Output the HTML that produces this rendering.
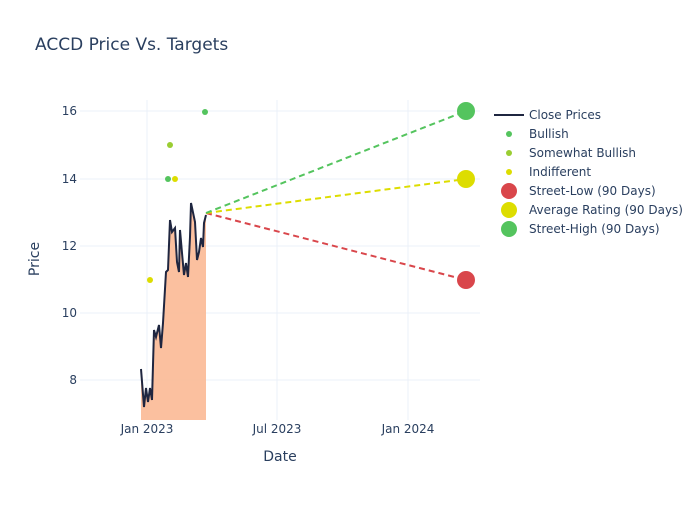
<!DOCTYPE html><html><head><meta charset="utf-8"><style>body{margin:0;background:#fff}svg{font-family:"DejaVu Sans","Liberation Sans",sans-serif}</style></head><body>
<svg width="700" height="500" xmlns="http://www.w3.org/2000/svg">
<rect width="700" height="500" fill="#fff"/>
<text x="35" y="50" font-size="17" fill="#2a3f5f">ACCD Price Vs. Targets</text>
<g stroke="#ebf0f8" stroke-width="1">
<line x1="80" x2="480" y1="111" y2="111"/><line x1="80" x2="480" y1="179" y2="179"/><line x1="80" x2="480" y1="246" y2="246"/><line x1="80" x2="480" y1="313" y2="313"/><line x1="80" x2="480" y1="380" y2="380"/>
<line x1="147" x2="147" y1="100" y2="420"/><line x1="277" x2="277" y1="100" y2="420"/><line x1="408" x2="408" y1="100" y2="420"/>
</g>
<g font-size="12" fill="#2a3f5f" text-anchor="end">
<text x="77" y="115">16</text><text x="77" y="183">14</text><text x="77" y="250">12</text><text x="77" y="317">10</text><text x="77" y="384">8</text></g>
<g font-size="12" fill="#2a3f5f" text-anchor="middle">
<text x="147" y="433">Jan 2023</text><text x="277" y="433">Jul 2023</text><text x="408" y="433">Jan 2024</text>
<text x="280" y="461" font-size="14">Date</text></g>
<text x="39" y="259" font-size="14" fill="#2a3f5f" text-anchor="middle" transform="rotate(-90 39 259)">Price</text>
<polygon fill="#fbbd9a" fill-opacity="0.95" points="141,420 141,369 144,407 146,388 148,402 150,388 152,400 154,330 156,337 159,325 161,348 163,323 166,272 168,270 170,220 172,232 175,228 177,262 179,272 180,230 182,253 184,275 186,263 188,277 190,237 191,203 195,222 197,260 199,252 201,238 203,247 204,223 206,215 206,420"/>
<polyline fill="none" stroke="#1f2640" stroke-width="2" points="141,369 144,407 146,388 148,402 150,388 152,400 154,330 156,337 159,325 161,348 163,323 166,272 168,270 170,220 172,232 175,228 177,262 179,272 180,230 182,253 184,275 186,263 188,277 190,237 191,203 195,222 197,260 199,252 201,238 203,247 204,223 206,215"/>
<line x1="206" y1="213" x2="466" y2="280" stroke="#d9464b" stroke-width="2" stroke-dasharray="6,4"/>
<line x1="206" y1="213" x2="466" y2="179" stroke="#dddd00" stroke-width="2" stroke-dasharray="6,4"/>
<line x1="206" y1="213" x2="466" y2="111" stroke="#54c45e" stroke-width="2" stroke-dasharray="6,4"/>
<circle cx="168" cy="179" r="3" fill="#54c45e"/><circle cx="205" cy="112" r="3" fill="#54c45e"/>
<circle cx="170" cy="145" r="3" fill="#9acd32"/>
<circle cx="150" cy="280" r="3" fill="#dddd00"/><circle cx="175" cy="179" r="3" fill="#dddd00"/>
<circle cx="466" cy="280" r="9" fill="#d9464b"/><circle cx="466" cy="179" r="9" fill="#dddd00"/><circle cx="466" cy="111" r="9" fill="#54c45e"/>
<g font-size="12" fill="#2a3f5f">
<line x1="494" x2="524" y1="115" y2="115" stroke="#1f2640" stroke-width="2"/><text x="529" y="119">Close Prices</text>
<circle cx="509" cy="134" r="3" fill="#54c45e"/><text x="529" y="138">Bullish</text>
<circle cx="509" cy="153" r="3" fill="#9acd32"/><text x="529" y="157">Somewhat Bullish</text>
<circle cx="509" cy="172" r="3" fill="#dddd00"/><text x="529" y="176">Indifferent</text>
<circle cx="509" cy="191" r="8" fill="#d9464b"/><text x="529" y="195">Street-Low (90 Days)</text>
<circle cx="509" cy="210" r="8" fill="#dddd00"/><text x="529" y="214">Average Rating (90 Days)</text>
<circle cx="509" cy="229" r="8" fill="#54c45e"/><text x="529" y="233">Street-High (90 Days)</text>
</g>
</svg></body></html>
